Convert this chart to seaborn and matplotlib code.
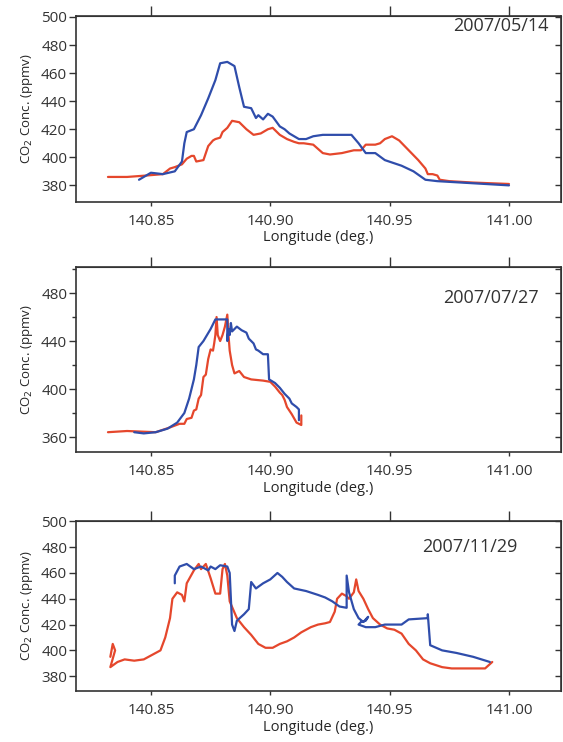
import matplotlib
matplotlib.use("Agg")
import matplotlib.pyplot as plt
from matplotlib.ticker import MultipleLocator
import pandas as pd
import seaborn as sns

# ---------------------------------------------------------------------------
# Data
# ---------------------------------------------------------------------------
dates = ["2007/05/14", "2007/07/27", "2007/11/29"]

# 2007/05/14
lon_red_1 = [140.832, 140.840, 140.848, 140.855, 140.858, 140.860, 140.863, 140.865,
             140.867, 140.868, 140.869, 140.872, 140.873, 140.874, 140.876, 140.877,
             140.879, 140.880, 140.882, 140.884, 140.887, 140.890, 140.893, 140.896,
             140.899, 140.901, 140.904, 140.907, 140.910, 140.912, 140.914, 140.918,
             140.920, 140.922, 140.925, 140.930, 140.935, 140.938, 140.940, 140.944,
             140.946, 140.948, 140.951, 140.954, 140.958, 140.962, 140.965, 140.966,
             140.968, 140.970, 140.971, 140.975, 140.985, 141.000]
co2_red_1 = [386, 386, 387, 388, 392, 393, 395, 399,
             401, 401, 397, 398, 403, 408, 412, 413,
             414, 418, 421, 426, 425, 420, 416, 417,
             420, 421, 416, 413, 411, 410, 410, 409,
             406, 403, 402, 403, 405, 405, 409, 409,
             410, 413, 415, 412, 405, 398, 392, 388,
             388, 387, 384, 383, 382, 381]
lon_blue_1 = [140.845, 140.848, 140.850, 140.855, 140.860, 140.863, 140.864, 140.865,
              140.868, 140.871, 140.874, 140.877, 140.879, 140.882, 140.885, 140.887,
              140.889, 140.892, 140.894, 140.895, 140.897, 140.899, 140.901, 140.904,
              140.906, 140.908, 140.910, 140.912, 140.915, 140.918, 140.922, 140.930,
              140.934, 140.937, 140.940, 140.944, 140.948, 140.955, 140.960, 140.965,
              140.970, 140.980, 141.000]
co2_blue_1 = [384, 387, 389, 388, 390, 397, 410, 418,
              420, 430, 442, 455, 467, 468, 465, 450,
              436, 435, 428, 430, 427, 431, 429, 422,
              420, 417, 415, 413, 413, 415, 416, 416,
              416, 410, 403, 403, 398, 394, 390, 384,
              383, 382, 380]

# 2007/07/27
lon_red_2 = [140.832, 140.840, 140.852, 140.858, 140.862, 140.864, 140.865, 140.867,
             140.868, 140.869, 140.870, 140.871, 140.872, 140.873, 140.874, 140.875,
             140.876, 140.8765, 140.877, 140.8775, 140.878, 140.879, 140.880, 140.881,
             140.882, 140.8825, 140.883, 140.884, 140.885, 140.887, 140.889, 140.892,
             140.897, 140.900, 140.902, 140.904, 140.905, 140.906, 140.907, 140.909,
             140.911, 140.913, 140.913]
co2_red_2 = [364, 365, 364, 368, 371, 371, 375, 376,
             382, 383, 392, 395, 410, 412, 425, 433,
             432, 438, 445, 460, 445, 440, 445, 452,
             462, 445, 432, 420, 413, 415, 410, 408,
             407, 406, 402, 397, 395, 391, 385, 379,
             372, 370, 378]
lon_blue_2 = [140.843, 140.847, 140.852, 140.857, 140.861, 140.864, 140.866, 140.868,
              140.869, 140.870, 140.872, 140.875, 140.877, 140.882, 140.882, 140.8825,
              140.883, 140.8835, 140.884, 140.886, 140.888, 140.890, 140.891, 140.893,
              140.894, 140.895, 140.897, 140.899, 140.8995, 140.902, 140.904, 140.906,
              140.908, 140.909, 140.911, 140.912, 140.912]
co2_blue_2 = [364, 363, 364, 367, 372, 380, 392, 408,
              420, 435, 440, 450, 458, 458, 440, 450,
              445, 455, 448, 452, 449, 447, 442, 438,
              433, 432, 429, 429, 408, 405, 401, 396,
              392, 388, 385, 383, 374]

# 2007/11/29
lon_red_3 = [140.833, 140.834, 140.835, 140.833, 140.836, 140.839, 140.843, 140.847,
             140.851, 140.854, 140.856, 140.858, 140.859, 140.861, 140.863, 140.864,
             140.865, 140.868, 140.870, 140.871, 140.873, 140.875, 140.877, 140.879,
             140.880, 140.881, 140.882, 140.883, 140.886, 140.889, 140.892, 140.895,
             140.898, 140.901, 140.904, 140.907, 140.910, 140.913, 140.917, 140.920,
             140.923, 140.925, 140.927, 140.928, 140.930, 140.932, 140.933, 140.935,
             140.936, 140.937, 140.939, 140.941, 140.943, 140.946, 140.949, 140.952,
             140.955, 140.958, 140.961, 140.964, 140.967, 140.972, 140.976, 140.983,
             140.990, 140.993]
co2_red_3 = [395, 405, 400, 387, 391, 393, 392, 393,
             397, 400, 410, 425, 440, 445, 443, 438,
             452, 462, 467, 463, 467, 456, 444, 444,
             463, 467, 458, 438, 425, 418, 412, 405,
             402, 402, 405, 407, 410, 414, 418, 420,
             421, 422, 430, 440, 444, 442, 440, 445,
             455, 446, 440, 432, 425, 420, 417, 416,
             413, 405, 400, 393, 390, 387, 386, 386,
             386, 391]
lon_blue_3 = [140.860, 140.860, 140.862, 140.865, 140.868, 140.871, 140.874, 140.875,
              140.877, 140.879, 140.882, 140.883, 140.884, 140.885, 140.886, 140.889,
              140.891, 140.892, 140.894, 140.897, 140.900, 140.903, 140.905, 140.907,
              140.910, 140.915, 140.920, 140.923, 140.926, 140.929, 140.932, 140.932,
              140.933, 140.935, 140.937, 140.939, 140.941, 140.940, 140.938, 140.937,
              140.940, 140.944, 140.948, 140.955, 140.958, 140.966, 140.966, 140.967,
              140.972, 140.978, 140.985, 140.992]
co2_blue_3 = [452, 458, 465, 467, 463, 465, 462, 465,
              463, 466, 465, 460, 420, 415, 423, 428,
              432, 453, 448, 452, 455, 460, 457, 453,
              448, 446, 443, 441, 438, 434, 433, 458,
              445, 432, 425, 422, 426, 423, 422, 420,
              418, 418, 420, 420, 424, 425, 428, 404,
              400, 398, 395, 391]

series = [
    (lon_red_1, co2_red_1, lon_blue_1, co2_blue_1),
    (lon_red_2, co2_red_2, lon_blue_2, co2_blue_2),
    (lon_red_3, co2_red_3, lon_blue_3, co2_blue_3),
]

x_ticks = [140.85, 140.90, 140.95, 141.00]
x_lim = (140.8184, 141.0218)
y_lims = [(368.5, 500.7), (347.5, 501.7), (368.5, 500.3)]
y_major = [20, 40, 20]

RED = "#e5472c"
BLUE = "#2f4dab"
DARK = "#333333"

# ---------------------------------------------------------------------------
# Figure
# ---------------------------------------------------------------------------
sns.set_style("ticks")
plt.rcParams["font.family"] = ["Open Sans", "DejaVu Sans"]
plt.rcParams["axes.edgecolor"] = DARK
plt.rcParams["xtick.color"] = DARK
plt.rcParams["ytick.color"] = DARK
plt.rcParams["text.color"] = DARK

fig = plt.figure(figsize=(5.63, 7.42), dpi=100)

# axes boxes in pixels: (top, bottom)
boxes = [(16, 201.5), (267, 452), (521, 691)]
left_px, right_px = 75.5, 561
W, H = 563, 742
date_pos = [(0.975, 0.945), (0.955, 0.835), (0.91, 0.85)]

for i, (top, bot) in enumerate(boxes):
    ax = fig.add_axes([left_px / W, 1 - bot / H,
                       (right_px - left_px) / W, (bot - top) / H])
    lr, cr, lb, cb = series[i]
    df_r = pd.DataFrame({"lon": lr, "co2": cr})
    df_b = pd.DataFrame({"lon": lb, "co2": cb})
    sns.lineplot(data=df_r, x="lon", y="co2", sort=False, estimator=None,
                 color=RED, linewidth=1.6, ax=ax)
    sns.lineplot(data=df_b, x="lon", y="co2", sort=False, estimator=None,
                 color=BLUE, linewidth=1.6, ax=ax)

    ax.set_xlim(*x_lim)
    ax.set_ylim(*y_lims[i])
    ax.set_xticks(x_ticks)
    ax.set_xticklabels([f"{t:.2f}" for t in x_ticks])
    ax.yaxis.set_major_locator(MultipleLocator(y_major[i]))
    if y_major[i] == 40:
        ax.yaxis.set_minor_locator(MultipleLocator(20))
        ax.tick_params(axis="y", which="minor", direction="out", length=3, width=1)

    for sp in ax.spines.values():
        sp.set_visible(True)
        sp.set_linewidth(1.2)
        sp.set_color(DARK)

    ax.tick_params(axis="x", direction="out", length=3, width=1,
                   labelsize=11, pad=6)
    ax.tick_params(axis="y", direction="out", length=5, width=1,
                   labelsize=11, pad=1)

    # long ticks on the top edge, short inward ticks on the right edge
    top_ax = ax.secondary_xaxis("top")
    top_ax.set_xticks(x_ticks)
    top_ax.tick_params(direction="out", length=7, width=1, labeltop=False)
    right_ax = ax.secondary_yaxis("right")
    right_ax.yaxis.set_major_locator(MultipleLocator(20))
    right_ax.tick_params(direction="in", length=4, width=1, labelright=False)

    ax.set_xlabel("Longitude (deg.)", fontsize=10.5, labelpad=1)
    ax.set_ylabel("CO$_2$ Conc. (ppmv)", fontsize=9.5, labelpad=4)
    ax.text(date_pos[i][0], date_pos[i][1], dates[i], transform=ax.transAxes,
            ha="right", va="center", fontsize=13)

fig.savefig("out.png", dpi=100)
